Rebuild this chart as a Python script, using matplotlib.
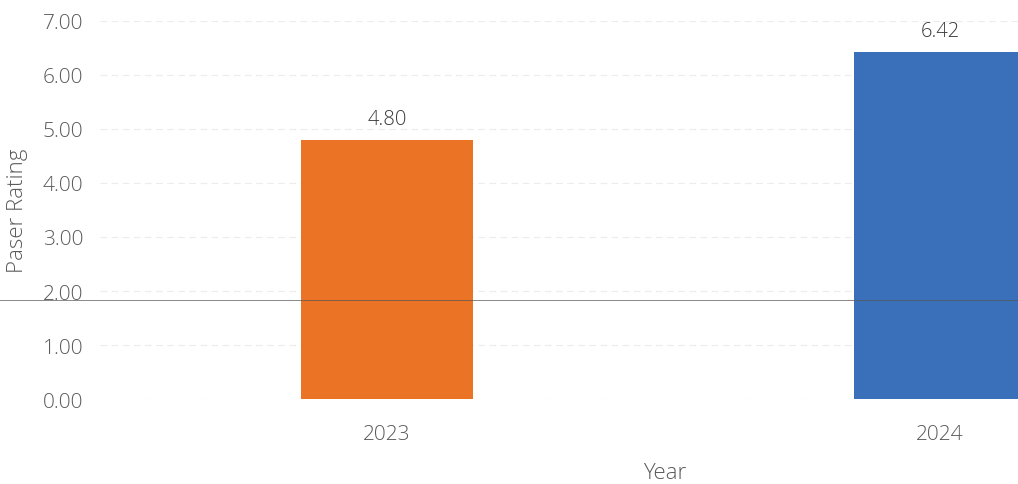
import matplotlib.pyplot as plt
from matplotlib.lines import Line2D

years = ["2023", "2024"]
ratings = [4.80, 6.42]
colors = ["#EA7326", "#3A70B9"]

plt.rcParams['font.family'] = ['Open Sans', 'DejaVu Sans']
plt.rcParams['font.weight'] = 'light'
plt.rcParams['axes.labelweight'] = 'light'

fig = plt.figure(figsize=(10.18, 4.85), dpi=100)
ax = fig.add_axes([0.098, 0.175, 0.902, 0.78])

x = list(range(len(years)))
bars = ax.bar(x, ratings, width=0.311, color=colors, zorder=2)

for xi, v in zip(x, ratings):
    ax.annotate(f"{v:.2f}", (xi, v), xytext=(0, 8), textcoords="offset points",
                ha="center", va="bottom", fontsize=14.5, color="#3a3a3a")

ax.set_xlim(-0.519, 1.141)
ax.set_ylim(0, 7)
ax.set_yticks(range(0, 8))
ax.set_yticklabels([f"{t:.2f}" for t in range(0, 8)])
ax.set_xticks(x)
ax.set_xticklabels(years)
ax.tick_params(axis="both", length=0, labelsize=15, labelcolor="#5a5a5a")
ax.tick_params(axis="x", pad=18)
ax.tick_params(axis="y", pad=12)

ax.grid(axis="y", color="#ececec", linewidth=0.8, linestyle=(0, (6, 4)), zorder=0)
for s in ax.spines.values():
    s.set_visible(False)

ax.set_ylabel("Paser Rating", fontsize=16, color="#5a5a5a")
ax.set_xlabel("Year", fontsize=16, color="#5a5a5a")
ax.xaxis.set_label_coords(0.615, -0.165)
ax.yaxis.set_label_coords(-0.078, 0.5)

# thin scan line crossing the page
fig.add_artist(Line2D([0, 1], [0.379, 0.379], color="#555555", linewidth=0.7, alpha=0.7))

fig.savefig("out.png", dpi=100)
